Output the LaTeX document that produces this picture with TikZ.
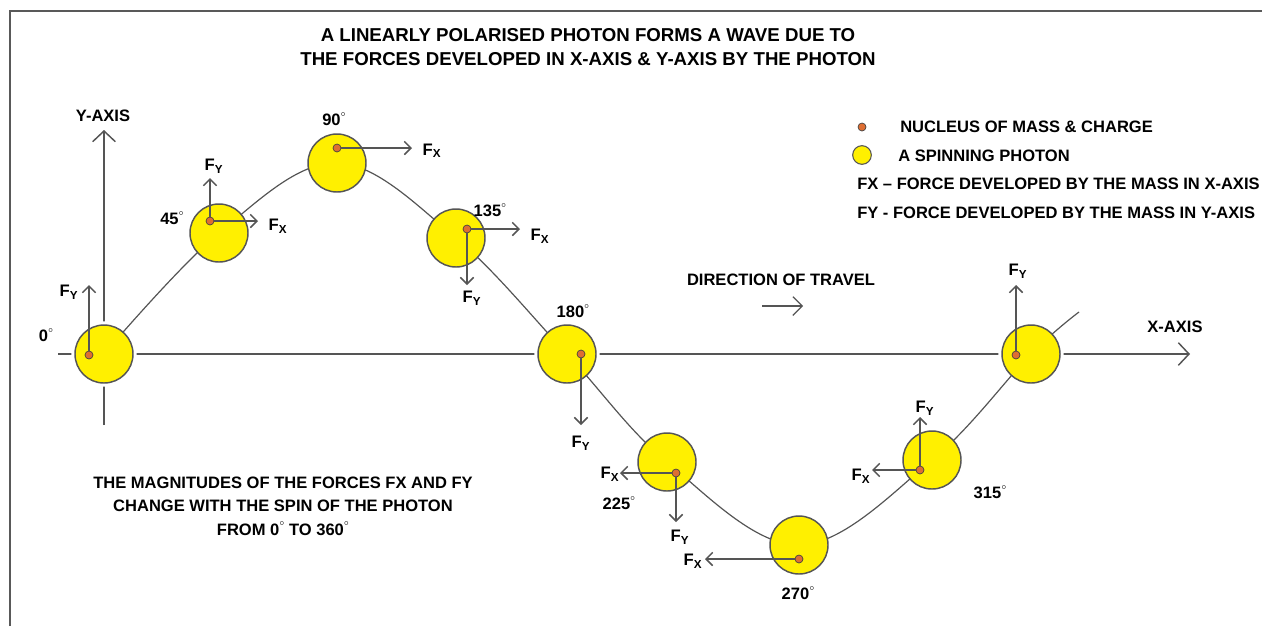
\documentclass[tikz,border=0pt]{standalone}
\usepackage{fontspec}
\setmainfont{Liberation Sans}
\usetikzlibrary{arrows.meta}

\definecolor{photonyellow}{RGB}{255,240,0}
\definecolor{nucleusorange}{RGB}{222,110,50}
\definecolor{wavegray}{RGB}{85,85,85}

\newcommand{\dg}{\raisebox{1.05ex}{$\scriptscriptstyle\circ$}}
\newcommand{\Fx}{F\textsubscript{X}}
\newcommand{\Fy}{F\textsubscript{Y}}

\tikzset{
  photon/.style={circle, draw=wavegray, line width=1.1pt, fill=photonyellow, minimum size=43.5pt, inner sep=0pt},
  halo/.style={circle, fill=white, minimum size=49pt, inner sep=0pt},
  nucleus/.style={circle, draw=black!75, line width=0.5pt, fill=nucleusorange, minimum size=6pt, inner sep=0pt},
  force/.style={draw=wavegray, line width=1.1pt, -{Straight Barb[length=5pt, width=10pt]}},
  axis/.style={draw=wavegray, line width=1.1pt, -{Straight Barb[length=8pt, width=17pt]}},
  lbl/.style={font=\bfseries\fontsize{12.4}{14}\selectfont, inner sep=0pt},
  flbl/.style={font=\bfseries\fontsize{12.5}{14}\selectfont, inner sep=0pt},
}

\begin{document}
\begin{tikzpicture}[x=0.75pt, y=-0.75pt]
\useasboundingbox (0,0) rectangle (1262,626);
% frame
\draw[black!65, line width=1.6pt] (10,626) -- (10,11) -- (1262,11);

% title
\node[font=\bfseries\fontsize{14}{18}\selectfont, align=center] (title) at (588,47)
  {A LINEARLY POLARISED PHOTON FORMS A WAVE DUE TO\\THE FORCES DEVELOPED IN X-AXIS \& Y-AXIS BY THE PHOTON};

% axes
\coordinate (ybot) at (104,425);
\coordinate (ytop) at (104,130);
\coordinate (xleft) at (58,354);
\coordinate (xright) at (1190,354);
\draw[axis] (ybot) -- (ytop);
\draw[axis] (xleft) -- (xright);
\node[lbl] (ylabel) at (103,116) {Y-AXIS};
\node[lbl] (xlabel) at (1175,327) {X-AXIS};

% photon positions: angle / circle centre / nucleus
\foreach \a/\cx/\cy/\nx/\ny in {0/104/354/89/355, 45/219/233/210/221, 90/337/163/337/148,
    135/456/238/467/229, 180/567/354/581/354, 225/667/462/676/473,
    270/799/545/799/559, 315/932/460/920/470, 360/1031/354/1016/355} {
  \coordinate (c\a) at (\cx,\cy);
  \coordinate (m\a) at (\nx,\ny);
  \node[halo] (h\a) at (c\a) {};
}
\coordinate (wend) at (1079,312);

% the wave
\draw[wavegray, line width=0.9pt] plot[smooth, tension=0.6] coordinates
  {(c0) (c45) (c90) (c135) (c180) (c225) (c270) (c315) (c360) (wend)};

\foreach \a in {0,45,90,135,180,225,270,315,360} {
  \node[photon] (p\a) at (c\a) {};
  \node[nucleus] (n\a) at (m\a) {};
}

% force arrows
\coordinate (fy0) at (89,285);
\coordinate (fy45) at (210,178);
\coordinate (fx45) at (258,221);
\coordinate (fx90) at (412,148);
\coordinate (fx135) at (520,229);
\coordinate (fy135) at (467,285);
\coordinate (fy180) at (581,425);
\coordinate (fx225) at (620,473);
\coordinate (fy225) at (676,522);
\coordinate (fx270) at (705,559);
\coordinate (fx315) at (872,470);
\coordinate (fy315) at (920,417);
\coordinate (fy360) at (1016,285);
\draw[force] (n0) -- (fy0);
\draw[force] (n45) -- (fy45);
\draw[force] (n45) -- (fx45);
\draw[force] (n90) -- (fx90);
\draw[force] (n135) -- (fx135);
\draw[force] (n135) -- (fy135);
\draw[force] (n180) -- (fy180);
\draw[force] (n225) -- (fx225);
\draw[force] (n225) -- (fy225);
\draw[force] (n270) -- (fx270);
\draw[force] (n315) -- (fx315);
\draw[force] (n315) -- (fy315);
\draw[force] (n360) -- (fy360);

% force labels
\node[flbl] (lfy0) at (69,292) {\Fy};
\node[flbl] (lfy45) at (214,166) {\Fy};
\node[flbl] (lfx45) at (278,226) {\Fx};
\node[flbl] (lfx90) at (432,151) {\Fx};
\node[flbl] (lfx135) at (540,236) {\Fx};
\node[flbl] (lfy135) at (472,298) {\Fy};
\node[flbl] (lfy180) at (581,443) {\Fy};
\node[flbl] (lfx225) at (610,474) {\Fx};
\node[flbl] (lfy225) at (680,537) {\Fy};
\node[flbl] (lfx270) at (693,561) {\Fx};
\node[flbl] (lfx315) at (861,476) {\Fx};
\node[flbl] (lfy315) at (925,408) {\Fy};
\node[flbl] (lfy360) at (1018,271) {\Fy};

% angle labels
\node[lbl] (a0) at (46,335) {0\dg};
\node[lbl] (a45) at (172,218) {45\dg};
\node[lbl] (a90) at (334,119) {90\dg};
\node[lbl] (a135) at (490,210) {135\dg};
\node[lbl] (a180) at (573,311) {180\dg};
\node[lbl] (a225) at (619,503) {225\dg};
\node[lbl] (a270) at (798,593) {270\dg};
\node[lbl] (a315) at (990,492) {315\dg};

% direction of travel
\node[lbl] (travel) at (781,280) {DIRECTION OF TRAVEL};
\coordinate (tstart) at (762,306);
\coordinate (tend) at (803,306);
\draw[draw=wavegray, line width=0.9pt, -{Straight Barb[length=7pt, width=14pt]}] (tstart) -- (tend);

% legend
\node[nucleus] (keynuc) at (862,127) {};
\node[lbl, anchor=west] (keynuctext) at (900,127) {NUCLEUS OF MASS \& CHARGE};
\node[photon, minimum size=14pt, line width=0.8pt] (keyphot) at (862,155) {};
\node[lbl, anchor=west] (keyphottext) at (898,156) {A SPINNING PHOTON};
\node[lbl, anchor=west] (keyfx) at (857,184) {FX – FORCE DEVELOPED BY THE MASS IN X-AXIS};
\node[lbl, anchor=west] (keyfy) at (857,213) {FY - FORCE DEVELOPED BY THE MASS IN Y-AXIS};

% note
\node[lbl, align=center, font=\bfseries\fontsize{12.4}{17.6}\selectfont] (note) at (283,506)
  {THE MAGNITUDES OF THE FORCES FX AND FY\\CHANGE WITH THE SPIN OF THE PHOTON\\FROM 0\dg{} TO 360\dg};
\end{tikzpicture}
\end{document}
